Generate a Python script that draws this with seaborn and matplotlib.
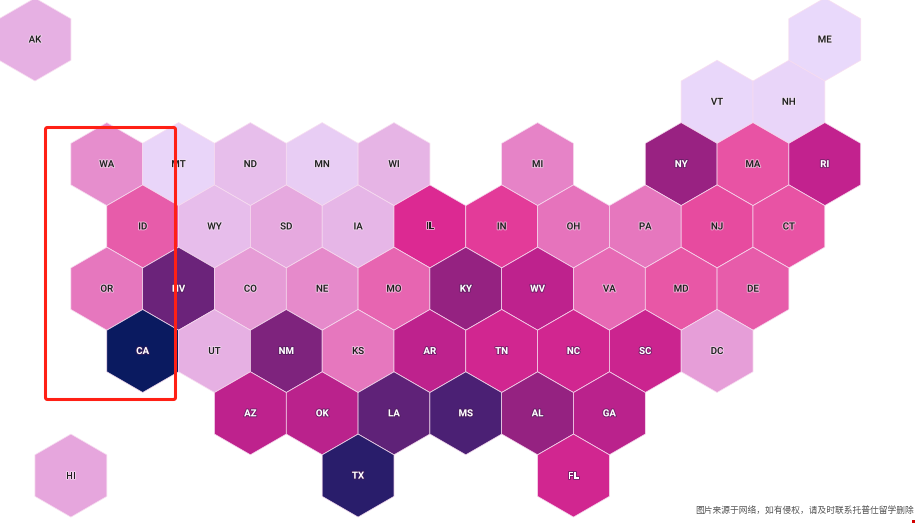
import matplotlib
matplotlib.use("Agg")
import matplotlib.patheffects as pe
import matplotlib.pyplot as plt
import pandas as pd
import seaborn as sns
from matplotlib.colors import LinearSegmentedColormap
from matplotlib.patches import FancyBboxPatch, Rectangle

sns.set_theme(style="white")
plt.rcParams["font.family"] = ["Roboto", "Noto Sans CJK SC", "DejaVu Sans"]

# Tile grid: column counts half-hexagons, row counts hexagon rows.
states = [
    "AK", "ME", "VT", "NH",
    "WA", "MT", "ND", "MN", "WI", "MI", "NY", "MA", "RI",
    "ID", "WY", "SD", "IA", "IL", "IN", "OH", "PA", "NJ", "CT",
    "OR", "NV", "CO", "NE", "MO", "KY", "WV", "VA", "MD", "DE",
    "CA", "UT", "NM", "KS", "AR", "TN", "NC", "SC", "DC",
    "AZ", "OK", "LA", "MS", "AL", "GA",
    "HI", "TX", "FL",
]
cols = [
    0, 22, 19, 21,
    2, 4, 6, 8, 10, 14, 18, 20, 22,
    3, 5, 7, 9, 11, 13, 15, 17, 19, 21,
    2, 4, 6, 8, 10, 12, 14, 16, 18, 20,
    3, 5, 7, 9, 11, 13, 15, 17, 19,
    6, 8, 10, 12, 14, 16,
    1, 9, 15,
]
rows = [
    0, 0, 1, 1,
    2, 2, 2, 2, 2, 2, 2, 2, 2,
    3, 3, 3, 3, 3, 3, 3, 3, 3, 3,
    4, 4, 4, 4, 4, 4, 4, 4, 4, 4,
    5, 5, 5, 5, 5, 5, 5, 5, 5,
    6, 6, 6, 6, 6, 6,
    7, 7, 7,
]
# Estimated from the tile shades, 0-100.
values = [
    20, 0, 1, 2,
    30, 2, 13, 6, 18, 33, 75, 44, 65,
    42, 14, 22, 17, 56, 50, 37, 36, 46, 44,
    36, 85, 26, 31, 40, 76, 66, 39, 43, 42,
    100, 20, 81, 36, 66, 60, 60, 62, 25,
    66, 67, 87, 90, 76, 67,
    23, 95, 60,
]
shade_stops = [
    (0.00, "#e9d9fb"), (0.20, "#e6b0e3"), (0.35, "#e67cc2"), (0.45, "#e84ea0"),
    (0.55, "#df2a92"), (0.65, "#c2228e"), (0.75, "#9a2282"), (0.85, "#6c237a"),
    (0.92, "#3f1f72"), (1.00, "#0a1a60"),
]
source_note = "图片来源于网络，如有侵权，请及时联系托普仕留学删除"

df = pd.DataFrame({"state": states, "col": cols, "row": rows, "value": values})
cmap = LinearSegmentedColormap.from_list("tiles", shade_stops)

fig = plt.figure(figsize=(9.15, 5.23), dpi=100)
ax = fig.add_axes([0, 0, 1, 1])

sns.scatterplot(
    data=df, x="col", y="row", hue="value", palette=cmap, hue_norm=(0, 100),
    marker="h", s=3571, edgecolor="#f7dcf0", linewidth=0.5, legend=False, ax=ax,
)
ax.set_xlim(-0.975, 24.513)
ax.set_ylim(7.761, -0.634)
ax.axis("off")

for _, r in df.iterrows():
    light = r["value"] >= 58
    ax.text(
        r["col"], r["row"], r["state"], ha="center", va="center", fontsize=7,
        fontweight="bold" if light else "medium", color="white" if light else "#1f1f1f", zorder=5,
        path_effects=[pe.withStroke(linewidth=1.4, foreground="#4a1c55" if light else "#f6e8f4", alpha=0.6)],
    )

# Red highlight box and corner speck from the screenshot, in figure pixels.
to_pixels = matplotlib.transforms.Affine2D().scale(1, -1).translate(0, 523)
box = FancyBboxPatch(
    (45.5, 127.5), 130, 272, boxstyle="round,pad=0,rounding_size=2",
    transform=to_pixels, fill=False, edgecolor="#ff2015", linewidth=2.2, zorder=6,
)
ax.add_patch(box)
ax.add_patch(Rectangle((912, 520), 3, 3, transform=to_pixels, facecolor="#d40000", edgecolor="none", zorder=6))

ax.text(
    695 / 915, 1 - 511 / 523, source_note, transform=ax.transAxes, ha="left", va="center",
    fontsize=6.3, color="#555555", zorder=7,
)

fig.savefig("out.png", dpi=100)
plt.close(fig)
